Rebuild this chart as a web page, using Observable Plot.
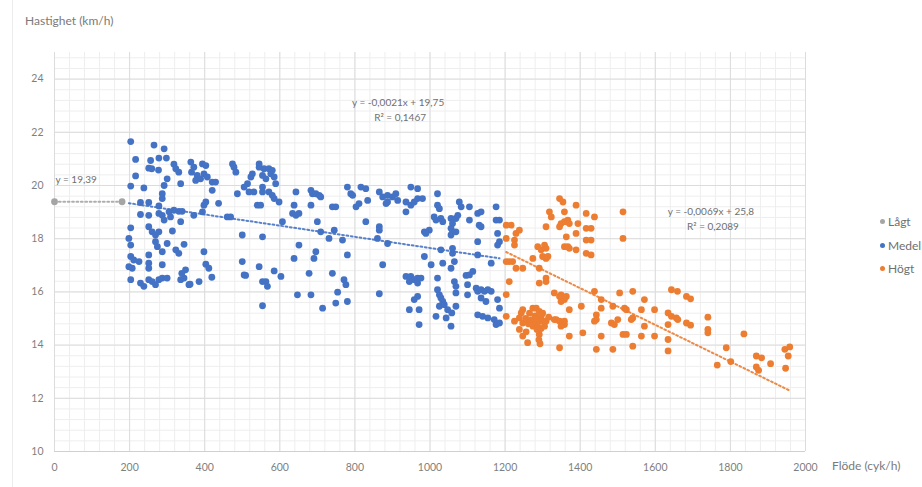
<!DOCTYPE html>
<html>
<head>
<meta charset="utf-8">
<script src="https://cdn.jsdelivr.net/npm/d3@7"></script>
<script src="https://cdn.jsdelivr.net/npm/@observablehq/plot@0.6"></script>
<style>
  html, body { margin: 0; padding: 0; background: #fff; }
  #wrap { position: relative; width: 922px; height: 487px; overflow: hidden; font-family: Lato, "Open Sans", sans-serif; }
  #edge { position: absolute; left: 12px; top: 0; width: 1px; height: 487px; background: #ececec; }
  .ttl { position: absolute; color: #7a7a7a; font-size: 12px; white-space: nowrap; }
  #legend { position: absolute; left: 880px; top: 210px; font-size: 12px; color: #6f6f6f; }
  #legend div { height: 23.5px; display: flex; align-items: center; white-space: nowrap; }
  #legend span.dot { display: inline-block; width: 5px; height: 5px; border-radius: 50%; margin-right: 3px; }
</style>
</head>
<body>
<div id="wrap">
  <div id="edge"></div>
  <div class="ttl" style="left:25px; top:13px;">Hastighet (km/h)</div>
  <div class="ttl" style="left:832px; top:458px;">Flöde (cyk/h)</div>
  <div id="legend"></div>
</div>
<script>
// ---- data ----
const seriesNames = ["Lågt", "Medel", "Högt"];
const seriesColors = ["#a5a5a5", "#4472c4", "#ed7d31"];

const lagtPoints = [[0, 19.39], [180, 19.39]];

const medelPoints = [
  [203,21.65],[265,21.52],[292,21.38],[216,20.98],[256,20.94],[278,21.03],[298,21.03],[251,20.65],[259,20.63],[277,20.58],
  [318,20.8],[323,20.63],[331,20.5],[216,20.36],[300,20.25],[363,20.88],[371,20.69],[365,20.5],[380,20.38],[376,20.19],
  [394,20.81],[403,20.75],[398,20.44],[407,20.32],[389,20.25],[420,20.13],[429,20.13],[420,19.82],[203,19.98],[238,19.91],
  [292,20.0],[287,19.69],[287,19.51],[336,20.07],[229,19.36],[251,19.36],[278,19.23],[403,19.38],[398,19.26],[437,19.33],
  [229,18.91],[251,18.88],[278,18.95],[287,18.88],[305,19.01],[318,19.07],[331,19.03],[340,19.03],[292,18.7],[309,18.82],
  [336,18.64],[371,18.88],[394,19.01],[460,18.82],[469,18.82],[203,18.41],[251,18.45],[260,18.26],[269,18.14],[278,18.26],
  [314,18.29],[198,18.01],[203,17.76],[269,17.89],[274,17.7],[300,17.82],[345,17.79],[203,17.33],[211,17.2],[198,16.95],
  [207,16.89],[225,17.14],[251,17.39],[251,17.08],[251,16.89],[287,17.51],[287,17.02],[323,17.58],[331,17.45],[398,17.51],
  [403,17.04],[411,16.89],[419,16.55],[203,16.46],[229,16.33],[238,16.21],[251,16.46],[260,16.39],[269,16.27],[278,16.46],
  [287,16.52],[300,16.52],[336,16.46],[345,16.52],[349,16.83],[358,16.27],[385,16.39],[339,16.70],[361,16.29],
  [474,20.81],[478,20.69],[483,20.5],[487,19.69],[500,18.14],[500,17.14],[509,16.62],
  [545,20.81],[545,20.69],[527,20.44],[523,20.32],[514,20.07],[558,20.63],[571,20.63],[580,20.57],[554,20.38],[563,20.25],
  [576,20.44],[585,20.32],[589,20.07],[505,19.94],[518,19.76],[531,19.76],[554,19.94],[554,19.76],[571,19.76],[580,19.63],
  [585,19.51],[598,19.38],[540,19.26],[549,19.26],[643,19.76],[638,19.26],[634,18.95],[643,18.88],[651,18.95],[683,19.82],
  [687,19.69],[696,19.69],[705,19.63],[709,19.57],[683,19.26],[607,18.64],[700,18.64],[709,18.26],[740,19.2],[749,19.2],
  [745,18.32],[731,18.01],[767,17.95],[780,19.94],[789,19.69],[794,19.63],[816,19.94],[829,19.88],[834,19.44],[811,19.32],
  [803,19.2],[829,18.64],[554,18.07],[651,17.76],[696,17.51],[691,17.26],[638,17.26],[780,17.39],[505,16.64],[545,16.95],
  [554,16.39],[563,16.39],[567,16.21],[585,16.79],[603,16.58],[678,16.70],[740,16.70],[771,16.46],[776,16.27],[647,15.89],
  [683,15.89],[754,15.99],[749,15.58],[780,15.64],[714,15.39],[554,15.48],[865,19.76],[874,19.57],[883,19.32],[887,19.63],
  [865,18.45],[865,18.32],[860,18.01],[887,17.82],[874,17.02],[865,15.93],
  [900,19.57],[909,19.69],[914,19.44],[887,19.38],[949,19.94],[967,19.88],[936,19.38],[949,19.26],[958,19.38],[967,19.51],
  [980,19.51],[936,19.01],[1020,19.69],[1020,19.26],[1025,19.13],[1011,18.82],[1029,18.76],[1016,18.70],[1034,18.64],[985,18.26],
  [998,18.32],[989,18.2],[1056,18.76],[1060,18.57],[1069,18.76],[1074,18.88],[1078,19.38],[1083,19.2],[1056,18.39],[1060,18.26],
  [1056,18.14],[1069,18.26],[1105,19.2],[1105,18.70],[1127,18.95],[1136,19.01],[1131,18.51],[1136,18.45],[1176,19.2],[1176,18.70],
  [1185,18.70],[1180,18.2],[1185,17.89],[1180,17.76],[1127,17.89],[1029,17.58],[1060,17.64],[1060,17.45],[985,17.33],[1003,17.02],
  [1034,17.08],[1065,17.14],[1056,16.89],[1127,17.39],[1163,17.08],[1114,16.77],[1096,16.62],[936,16.58],[949,16.58],[958,16.46],
  [967,16.52],[945,16.39],[967,16.33],[976,16.52],[1020,16.52],[1065,16.39],[1069,16.21],[1020,16.08],[1025,15.89],[967,15.83],
  [958,15.71],[1029,15.77],[1034,15.64],[1025,15.46],[1038,15.52],[1047,15.33],[945,15.33],[971,15.33],[1016,15.08],[1043,15.02],
  [1056,14.71],[971,14.77],[1105,16.64],[1123,16.14],[1127,16.02],[1100,15.89],[1136,16.08],[1145,16.02],[1154,16.08],[1163,16.02],
  [1136,15.77],[1149,15.64],[1180,15.71],[1127,15.14],[1140,15.08],[1154,15.02],[1171,14.96],[1185,15.39],[1176,14.77],[1185,14.83],
  [1100,16.27],[1069,15.96],[1069,15.46],[1058,15.21]
];

const hogtPoints = [
  [1203,18.51],[1203,17.14],[1211,17.14],[1211,16.39],[1203,15.9],[1203,15.08],
  [1216,18.51],[1229,18.2],[1238,18.32],[1225,17.95],[1203,18.01],[1225,17.76],[1220,17.14],[1229,16.89],[1247,16.89],
  [1318,19.01],[1323,18.82],[1309,18.45],[1345,19.51],[1354,19.38],[1358,19.01],[1349,18.57],[1345,18.45],[1358,18.64],[1367,18.70],
  [1371,18.57],[1389,19.26],[1416,18.95],[1438,18.82],[1394,18.57],[1389,18.2],[1416,18.39],[1429,18.39],[1416,17.95],[1429,17.95],
  [1363,18.07],[1358,17.7],[1367,17.7],[1371,17.64],[1389,17.58],[1416,17.45],[1429,17.39],[1287,17.7],[1296,17.58],[1305,17.76],
  [1309,17.64],[1300,17.33],[1309,17.26],[1314,17.33],[1274,17.26],[1291,16.89],[1309,16.52],[1309,16.39],[1291,16.33],[1331,15.96],
  [1349,15.89],[1354,15.77],[1363,15.83],[1371,15.33],[1336,14.96],[1345,14.9],[1354,14.83],[1358,14.77],[1403,15.46],[1438,16.02],
  [1443,15.14],[1443,14.96],[1456,15.71],[1487,15.46],[1483,14.83],[1407,14.46],[1443,13.84],[1345,13.9],[1487,13.84],[1371,14.34],
  [1225,14.9],[1247,15.33],[1243,15.21],[1238,15.02],[1247,14.83],[1238,14.59],[1247,14.34],[1260,14.09],[1274,15.39],[1283,15.39],
  [1291,15.27],[1296,15.08],[1278,14.9],[1287,14.9],[1300,14.9],[1309,14.9],[1274,14.71],[1287,14.71],[1296,14.62],[1305,14.71],
  [1291,14.4],[1293,14.05],[1285,14.59],[1265,15.2],[1256,14.5],[1270,14.95],[1300,15.2],[1280,15.1],[1262,14.8],[1316,15.05],
  [1290,14.2],[1255,15.0],
  [1345,15.83],[1358,15.71],[1349,15.64],[1331,14.96],[1349,14.71],[1358,14.9],[1438,14.9],[1456,15.39],[1456,14.34],
  [1491,14.77],[1500,14.96],[1505,15.96],[1518,15.39],[1523,15.33],[1536,14.96],[1540,15.02],[1514,14.4],[1523,14.4],[1540,16.02],
  [1540,13.96],[1571,15.71],[1563,15.33],[1571,14.71],[1563,14.34],[1598,15.33],[1598,14.34],[1634,15.21],[1643,15.08],[1656,15.02],
  [1660,14.96],[1634,14.77],[1634,14.21],[1634,13.78],[1643,16.08],[1659,16.02],[1683,15.83],[1694,15.74],[1683,14.83],[1694,14.75],
  [1740,15.05],[1740,14.59],[1740,14.46],[1836,14.42],[1789,13.9],[1801,13.38],[1765,13.25],[1869,13.59],[1883,13.52],[1869,13.18],
  [1875,13.05],[1907,13.3],[1945,13.84],[1958,13.93],[1954,13.59],[1947,13.13],[1514,19.01],[1514,18.01]
];

// trendline coefficients (from the chart's equations)
const trendSlopes = [0, -0.0021, -0.0069];
const trendIntercepts = [19.39, 19.75, 25.8];
const trendLabels = [
  ["y = 19,39"],
  ["y = -0,0021x + 19,75", "R² = 0,1467"],
  ["y = -0,0069x + 25,8", "R² = 0,2089"]
];
// label anchors in data units
const labelX = [0, 915, 1748];
const labelY = [20.2, 23.1, 19.01];

const xTicks = d3.range(0, 2001, 200);
const yTicks = d3.range(10, 25, 2);
const xMinor = d3.range(0, 2001, 40);
const yMinor = d3.range(0, 38).map(i => 10 + i * 0.4);

// ---- build ----
const allSeries = [lagtPoints, medelPoints, hogtPoints];
const dots = allSeries.flatMap((pts, i) => pts.map(([x, y]) => ({x, y, s: seriesNames[i]})));
const trends = allSeries.flatMap((pts, i) => {
  const [x0, x1] = d3.extent(pts, d => d[0]);
  return [x0, x1].map(x => ({x, y: trendIntercepts[i] + trendSlopes[i] * x, s: seriesNames[i]}));
});
const labels = trendLabels.flatMap((lines, i) => lines.map((t, j) => ({
  text: t, x: labelX[i], y: labelY[i], line: j, s: i
})));

const chart = Plot.plot({
  width: 922,
  height: 487,
  marginLeft: 54,
  marginRight: 117,
  marginTop: 52,
  marginBottom: 36,
  style: {fontFamily: "Lato, 'Open Sans', sans-serif", fontSize: "10.5px", color: "#7f7f7f", background: "transparent", overflow: "visible"},
  x: {domain: [0, 2000], ticks: xTicks, tickFormat: d => String(d), tickSize: 0, tickPadding: 12, label: null},
  y: {domain: [10, 25], ticks: yTicks, tickFormat: d => String(d), tickSize: 0, tickPadding: 11, label: null},
  color: {domain: seriesNames, range: seriesColors},
  marks: [
    Plot.ruleX(xMinor, {stroke: "#eeeeee", strokeWidth: 1, y1: 10, y2: 25}),
    Plot.ruleY(yMinor, {stroke: "#eeeeee", strokeWidth: 1}),
    Plot.ruleX(xTicks, {stroke: "#dcdcdc", strokeWidth: 1, y1: 10, y2: 25}),
    Plot.ruleY(yTicks, {stroke: "#dcdcdc", strokeWidth: 1}),
    Plot.ruleY([10], {stroke: "#d0d0d0", strokeWidth: 1.2}),
    Plot.dot(dots, {x: "x", y: "y", fill: "s", r: 3.4, stroke: "none"}),
    Plot.line(trends, {x: "x", y: "y", z: "s", stroke: "s", strokeWidth: 2, strokeDasharray: "1.8 2.6", strokeOpacity: 0.9}),
    Plot.text(labels.filter(d => d.s === 0), {x: "x", y: "y", text: "text", textAnchor: "start", dx: 1, fill: "#6f6f6f", fontSize: 10}),
    Plot.text(labels.filter(d => d.s > 0), {x: "x", y: "y", text: "text", fill: "#6f6f6f", fontSize: 10})
  ]
});

// second-line offsets for the R² rows
d3.select(chart).selectAll("text").filter(function() { return /^R²/.test(this.textContent); })
  .attr("transform", function() { return (d3.select(this).attr("transform") || "") + " translate(2,15)"; });

document.getElementById("wrap").appendChild(chart);
chart.style.position = "absolute";
chart.style.left = "0";
chart.style.top = "0";

const legend = d3.select("#legend");
seriesNames.forEach((n, i) => {
  const row = legend.append("div");
  row.append("span").attr("class", "dot").style("background", seriesColors[i]);
  row.append("span").text(n);
});
</script>
</body>
</html>
